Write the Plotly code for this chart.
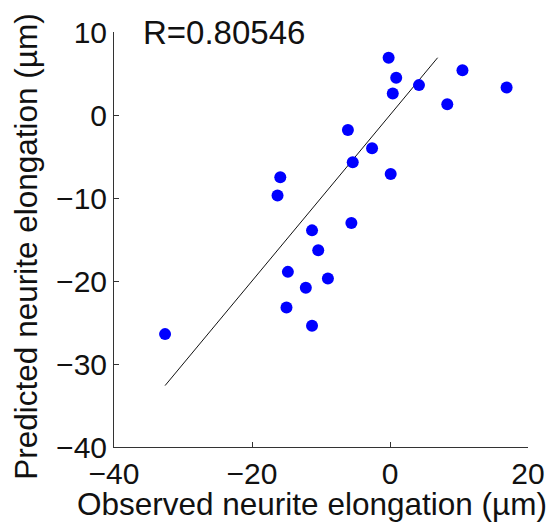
import plotly.graph_objects as go

observed = [-0.2, 0.9, 0.4, 4.2, 10.5, 16.9, 8.3, -6.1, -2.6, -5.4, 0.1, -15.9, -16.3,
            -5.6, -11.3, -10.4, -14.8, -9.0, -12.2, -15.0, -11.3, -32.6]
predicted = [6.9, 4.5, 2.6, 3.6, 5.4, 3.3, 1.3, -1.8, -4.0, -5.7, -7.1, -7.5, -9.7,
             -13.0, -13.9, -16.3, -18.9, -19.7, -20.8, -23.2, -25.4, -26.4]
fit_x = [-32.6, 6.9]
fit_y = [-32.6, 6.9]
x_ticks = [-40, -20, 0, 20]
y_ticks = [-40, -30, -20, -10, 0, 10]
r_label = "R=0.80546"
x_title = "Observed neurite elongation (\u00b5m)"
y_title = "Predicted neurite elongation (\u00b5m)"

FONT = "Liberation Sans, Arial, Helvetica, sans-serif"
OFF = 8  # page body margin
W, H = 552, 517
L, T = 113.5 - OFF, 32.3 - OFF
R = W - (528.3 - OFF)
B = H - (446.7 - OFF)
PW, PH = W - L - R, H - T - B


def px(xp):
    return (xp - OFF - L) / PW


def py(yp):
    return (H - B - (yp - OFF)) / PH


fig = go.Figure()
fig.add_trace(go.Scatter(x=fit_x, y=fit_y, mode="lines",
                         line=dict(color="#111111", width=1), showlegend=False))
fig.add_trace(go.Scatter(x=observed, y=predicted, mode="markers",
                         marker=dict(color="#0000ff", size=12, line=dict(width=0)),
                         showlegend=False))

fig.add_annotation(text=r_label, xref="paper", yref="paper", x=px(141), y=py(33),
                   xanchor="left", yanchor="middle", showarrow=False,
                   font=dict(size=33, color="#111111", family=FONT))
fig.add_annotation(text=x_title, xref="paper", yref="paper", x=px(312), y=py(504),
                   xanchor="center", yanchor="middle", showarrow=False,
                   font=dict(size=31.5, color="#111111", family=FONT))
fig.add_annotation(text=y_title, xref="paper", yref="paper", x=px(24.5), y=py(246.5),
                   xanchor="center", yanchor="middle", showarrow=False,
                   textangle=-90, font=dict(size=31.5, color="#111111", family=FONT))

axis_common = dict(showline=True, linecolor="#333333", linewidth=1, ticks="inside",
                   ticklen=5, tickcolor="#333333", showgrid=False, zeroline=False,
                   tickfont=dict(size=30, color="#111111", family=FONT),
                   mirror=False, automargin=False)

fig.update_layout(
    width=W, height=H,
    margin=dict(l=L, r=R, t=T, b=B),
    paper_bgcolor="white", plot_bgcolor="white",
    xaxis=dict(range=[-40, 20], tickvals=x_ticks,
               ticktext=[str(v).replace("-", "\u2212") for v in x_ticks],
               ticklabelstandoff=0, **axis_common),
    yaxis=dict(range=[-40, 10], tickvals=y_ticks,
               ticktext=[str(v).replace("-", "\u2212") for v in y_ticks],
               ticklabelstandoff=0, **axis_common),
)

fig.write_html("out.html")
